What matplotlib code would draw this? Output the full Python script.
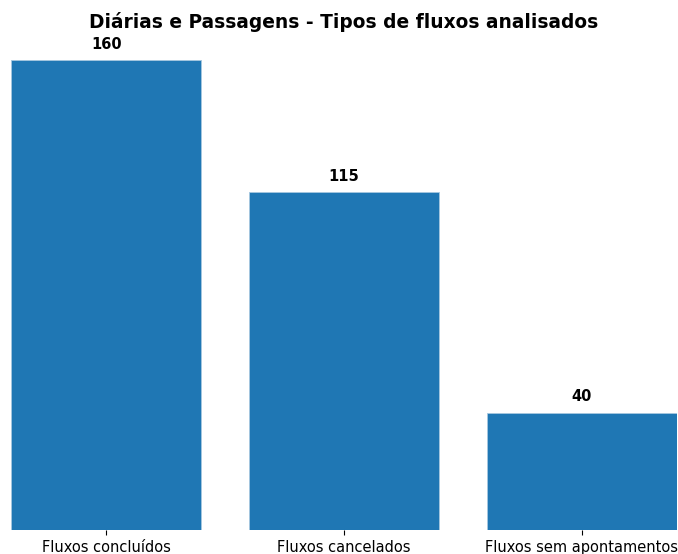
import matplotlib
matplotlib.use('Agg')
import matplotlib.pyplot as plt

categorias = ['Fluxos concluídos', 'Fluxos cancelados', 'Fluxos sem apontamentos']
valores = [160, 115, 40]

fig = plt.figure(figsize=(6.78, 5.54), dpi=100)
ax = fig.add_axes([11/678, 24/554, 666/678, 470/554])

x = range(len(categorias))
barras = ax.bar(x, valores, width=0.8, color='#1f77b4', edgecolor='#a6c8e0', linewidth=0.6)
ax.set_xlim(-0.4, 2.4)
ax.set_ylim(0, 160)

for b, v in zip(barras, valores):
    ax.annotate(str(v), (b.get_x() + b.get_width() / 2, v), xytext=(0, 6),
                textcoords='offset points', ha='center', va='bottom',
                fontsize=10.5, fontweight='bold', annotation_clip=False)

ax.set_xticks(list(x))
ax.set_xticklabels(categorias, fontsize=10.5)
ax.set_yticks([])
for s in ax.spines.values():
    s.set_visible(False)

fig.text(344/678, 1 - 22/554, 'Diárias e Passagens - Tipos de fluxos analisados',
         ha='center', va='center', fontsize=13.4, fontweight='bold')

fig.savefig('out.png', dpi=100)
